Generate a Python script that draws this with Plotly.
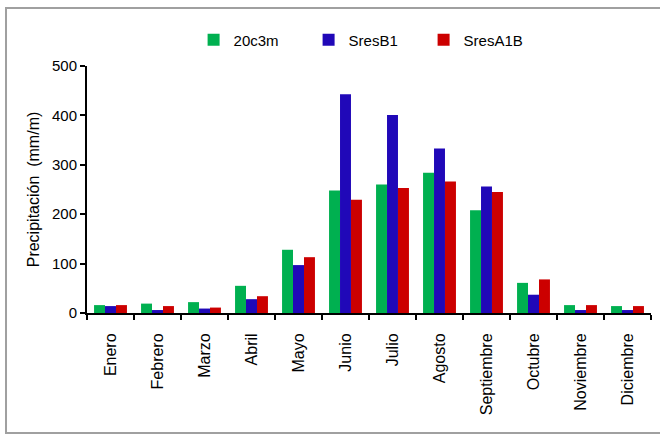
import plotly.graph_objects as go

# Monthly precipitation (mm/m) for the baseline and two emission scenarios
meses = ["Enero", "Febrero", "Marzo", "Abril", "Mayo", "Junio", "Julio",
         "Agosto", "Septiembre", "Octubre", "Noviembre", "Diciembre"]
c20c3m = [16, 19, 22, 55, 128, 248, 260, 284, 208, 61, 16, 14]
sres_b1 = [14, 6, 9, 28, 97, 443, 401, 333, 256, 37, 6, 6]
sres_a1b = [16, 14, 11, 34, 113, 229, 253, 266, 245, 68, 16, 14]

series = [
    ("20c3m", c20c3m, "#00B050"),
    ("SresB1", sres_b1, "#2008B8"),
    ("SresA1B", sres_a1b, "#CC0000"),
]

fig = go.Figure()
for name, vals, color in series:
    fig.add_trace(go.Bar(x=meses, y=vals, name=name, marker_color=color,
                         marker_line_width=0))

font = dict(family="Liberation Sans, Arial, sans-serif", size=14, color="#000")

fig.update_layout(
    width=660, height=435,
    margin=dict(l=87, r=9, t=66, b=122, autoexpand=False),
    paper_bgcolor="white", plot_bgcolor="white",
    font=font,
    barmode="group", bargap=0.3, bargroupgap=0,
    showlegend=True,
    legend=dict(orientation="h", x=0.189, y=1.105, xanchor="left", yanchor="middle",
                entrywidth=70, entrywidthmode="pixels",
                font=dict(size=15), itemwidth=30, bgcolor="rgba(0,0,0,0)"),
    xaxis=dict(showline=True, linecolor="#000", linewidth=2,
               ticks="outside", tickson="boundaries", ticklen=5, tickwidth=2,
               tickcolor="#000", tickangle=-90, showgrid=False,
               ticklabelstandoff=12, tickfont=dict(size=16)),
    yaxis=dict(range=[0, 500], dtick=100, showline=True, linecolor="#000",
               linewidth=2, ticks="outside", ticklen=5, tickwidth=2,
               tickcolor="#000", showgrid=False, zeroline=False,
               title=dict(text="Precipitación  (mm/m)", standoff=8,
                          font=dict(size=16)),
               tickfont=dict(size=15)),
    shapes=[dict(type="rect", xref="paper", yref="paper",
                 x0=-0.1436, x1=1.06, y0=-0.4858, y1=1.2348,
                 line=dict(color="#A0A0A0", width=2), layer="below")],
)

fig.write_html("out.html")
